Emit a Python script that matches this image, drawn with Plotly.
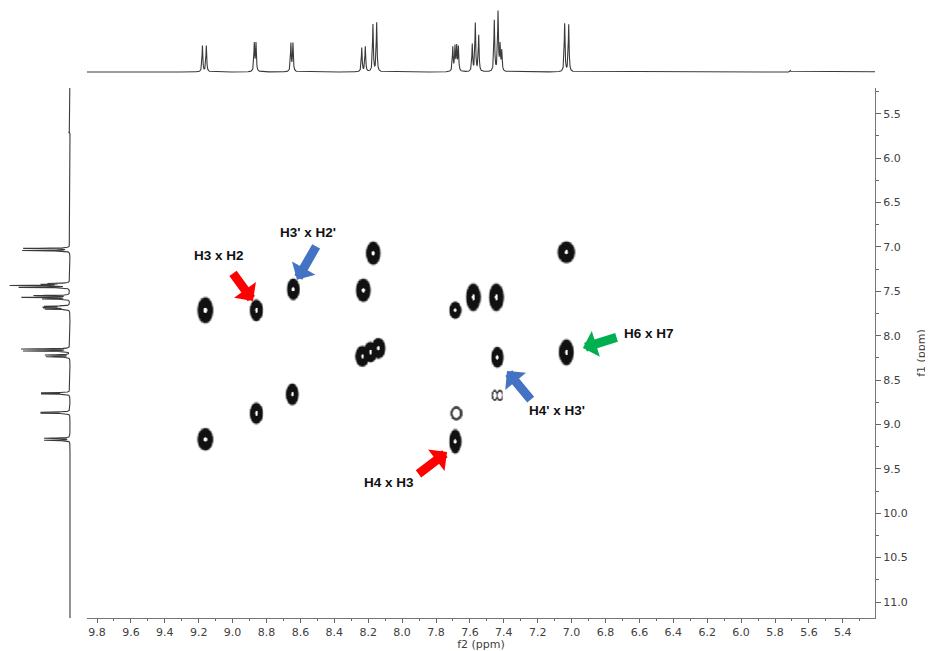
import numpy as np
import plotly.graph_objects as go

# ---------------- data ----------------
# 1D 1H spectrum lines (ppm, relative intensity)
line_ppm = [9.178, 9.155, 8.872, 8.862, 8.656, 8.644, 8.238, 8.217, 8.172, 8.150,
            7.701, 7.688, 7.678, 7.668, 7.586, 7.568, 7.548, 7.456, 7.434, 7.422,
            7.412, 7.041, 7.017, 5.710]
line_int = [26, 26, 28, 28, 28, 28, 24, 25, 47, 49,
            24, 24, 24, 24, 27, 48, 36, 51, 59, 25,
            20, 48, 47, 1.5]

# COSY peaks: f2 (ppm), f1 (ppm), widths in f2 / f1 (ppm), relative intensity
peak_f2 = [9.163, 8.862, 8.644, 8.231, 8.172, 8.237, 8.189, 8.142, 7.688, 7.582,
           7.446, 7.033, 7.033, 7.440, 7.455, 7.425, 7.682, 7.688, 9.163, 8.862, 8.650]
peak_f1 = [7.710, 7.710, 7.473, 7.484, 7.067, 8.228, 8.180, 8.138, 7.710, 7.563,
           7.563, 7.056, 8.183, 8.240, 8.668, 8.668, 8.871, 9.187, 9.164, 8.871, 8.657]
peak_w2 = [0.106, 0.088, 0.088, 0.100, 0.100, 0.094, 0.094, 0.094, 0.083, 0.100,
           0.100, 0.118, 0.100, 0.083, 0.042, 0.042, 0.083, 0.083, 0.106, 0.088, 0.088]
peak_w1 = [0.338, 0.282, 0.282, 0.304, 0.304, 0.270, 0.270, 0.270, 0.225, 0.361,
           0.361, 0.282, 0.338, 0.271, 0.150, 0.150, 0.184, 0.316, 0.293, 0.282, 0.282]
peak_amp = [1, 1, 1, 1, 1, 1, 1, 1, 1, 1,
            1, 1, 1, 1, 0.3, 0.3, 0.3, 1, 1, 1, 1]

x_ticks = [round(v, 1) for v in np.arange(5.4, 9.81, 0.2)]
y_ticks = [round(v, 1) for v in np.arange(5.5, 11.01, 0.5)]

labels = ["H3 x H2", "H3' x H2'", "H6 x H7", "H4' x H3'", "H4 x H3"]
label_f2 = [9.080, 8.555, 6.543, 7.086, 8.077]
label_f1 = [7.101, 6.842, 7.980, 8.848, 9.649]
arrow_col = ["#ff0000", "#4472c4", "#00b050", "#4472c4", "#ff0000"]
arrow_tail_f2 = [9.004, 8.502, 6.726, 7.234, 7.912]
arrow_tail_f1 = [7.281, 6.977, 8.014, 8.736, 9.570]
arrow_tip_f2 = [8.880, 8.620, 6.933, 7.381, 7.735]
arrow_tip_f1 = [7.608, 7.371, 8.138, 8.397, 9.311]

# ---------------- derived ----------------
X_RANGE = [9.859, 5.21]
Y_RANGE = [11.18, 5.21]

grid = np.arange(5.0, 11.3, 0.0005)
spec = np.zeros_like(grid)
gam = 0.0028
for p, h in zip(line_ppm, line_int):
    spec += h / (1 + ((grid - p) / gam) ** 2)
spec = np.round(spec, 3)

gx = np.arange(6.85, 9.36, 0.004)
gy = np.arange(6.70, 9.56, 0.008)
GX, GY = np.meshgrid(gx, gy)
Z_strong = np.zeros_like(GX)
Z_weak = np.zeros_like(GX)
for f2, f1, w2, w1, a in zip(peak_f2, peak_f1, peak_w2, peak_w1, peak_amp):
    s2 = w2 / 2 / 2.45
    s1 = w1 / 2 / 2.45
    g = np.exp(-0.5 * (((GX - f2) / s2) ** 2 + ((GY - f1) / s1) ** 2))
    if a >= 0.5:
        Z_strong = np.maximum(Z_strong, g)
    else:
        Z_weak = np.maximum(Z_weak, g)
Z_strong = np.round(Z_strong, 3)
Z_weak = np.round(Z_weak, 3)

# page body has an 8px margin -> figure is 8px smaller, coordinates shifted by 8
W, H = 925, 643
dom_x = [79 / W, 867 / W]
dom_y = [1 - 610 / H, 1 - 80 / H]

T = "rgba(255,255,255,0)"
fig = go.Figure()
fig.add_trace(go.Heatmap(
    x=gx, y=gy, z=Z_strong, zmin=0, zmax=1, zsmooth="best", showscale=False, hoverinfo="skip",
    colorscale=[[0, T], [0.05, T], [0.10, "rgba(150,150,150,1)"], [0.16, "#111111"],
                [0.88, "#111111"], [0.93, "#ffffff"], [1, "#ffffff"]],
    xaxis="x", yaxis="y"))
fig.add_trace(go.Heatmap(
    x=gx, y=gy, z=Z_weak, zmin=0, zmax=1, zsmooth="best", showscale=False, hoverinfo="skip",
    colorscale=[[0, T], [0.06, T], [0.13, "rgba(80,80,80,1)"], [0.35, "rgba(60,60,60,1)"],
                [0.5, "rgba(255,255,255,1)"], [1, "rgba(255,255,255,1)"]],
    xaxis="x", yaxis="y"))

# top projection
fig.add_trace(go.Scatter(x=grid, y=spec, mode="lines", line=dict(color="#3a3a3a", width=1.1),
                         xaxis="x", yaxis="y3", hoverinfo="skip"))
# left projection
fig.add_trace(go.Scatter(x=spec, y=grid, mode="lines", line=dict(color="#3a3a3a", width=1.1),
                         xaxis="x2", yaxis="y", hoverinfo="skip"))

tickfont = dict(family="DejaVu Sans", size=11, color="#404040")
fig.update_layout(
    width=W, height=H, margin=dict(l=0, r=0, t=0, b=0),
    paper_bgcolor="white", plot_bgcolor="rgba(0,0,0,0)", showlegend=False,
    xaxis=dict(domain=dom_x, range=X_RANGE, anchor="y", tickmode="array",
               tickvals=x_ticks, ticktext=[f"{v:.1f}" for v in x_ticks],
               ticks="outside", ticklen=4, tickcolor="#666", showline=True, linecolor="#777",
               linewidth=1, showgrid=False, zeroline=False, tickfont=tickfont,
               minor=dict(dtick=0.1, tick0=0, ticks="outside", ticklen=2, tickcolor="#666", showgrid=False),
               title=dict(text="f2 (ppm)", font=dict(family="DejaVu Sans", size=11, color="#404040"),
                          standoff=5),
               automargin=False),
    yaxis=dict(domain=dom_y, range=Y_RANGE, anchor="x", side="right", tickmode="array",
               tickvals=y_ticks, ticktext=[f"{v:.1f}" for v in y_ticks],
               ticks="outside", ticklen=5, tickcolor="#666", showline=True, linecolor="#777",
               linewidth=1, showgrid=False, zeroline=False, tickfont=tickfont,
               minor=dict(dtick=0.25, tick0=0, ticks="outside", ticklen=3, tickcolor="#666", showgrid=False),
               title=dict(text="f1 (ppm)", font=dict(family="DejaVu Sans", size=11, color="#404040"),
                          standoff=10),
               automargin=False),
    xaxis2=dict(domain=[0, 72 / W], range=[63.07, -10.17], anchor="y", visible=False),
    yaxis3=dict(domain=[1 - 72 / H, 1], range=[-8, 64], anchor="x", visible=False),
)

annotations = []
for t, lx, ly in zip(labels, label_f2, label_f1):
    annotations.append(dict(x=lx, y=ly, xref="x", yref="y", text=f"<b>{t}</b>", showarrow=False,
                            font=dict(family="Liberation Sans", size=13.5, color="#111")))
for c, tx, ty, hx, hy in zip(arrow_col, arrow_tail_f2, arrow_tail_f1, arrow_tip_f2, arrow_tip_f1):
    annotations.append(dict(x=hx, y=hy, xref="x", yref="y", ax=tx, ay=ty, axref="x", ayref="y",
                            text="", showarrow=True, arrowhead=1, arrowsize=0.5, arrowwidth=9,
                            arrowcolor=c, standoff=0, startstandoff=0))
fig.update_layout(annotations=annotations)

fig.write_html("out.html")
